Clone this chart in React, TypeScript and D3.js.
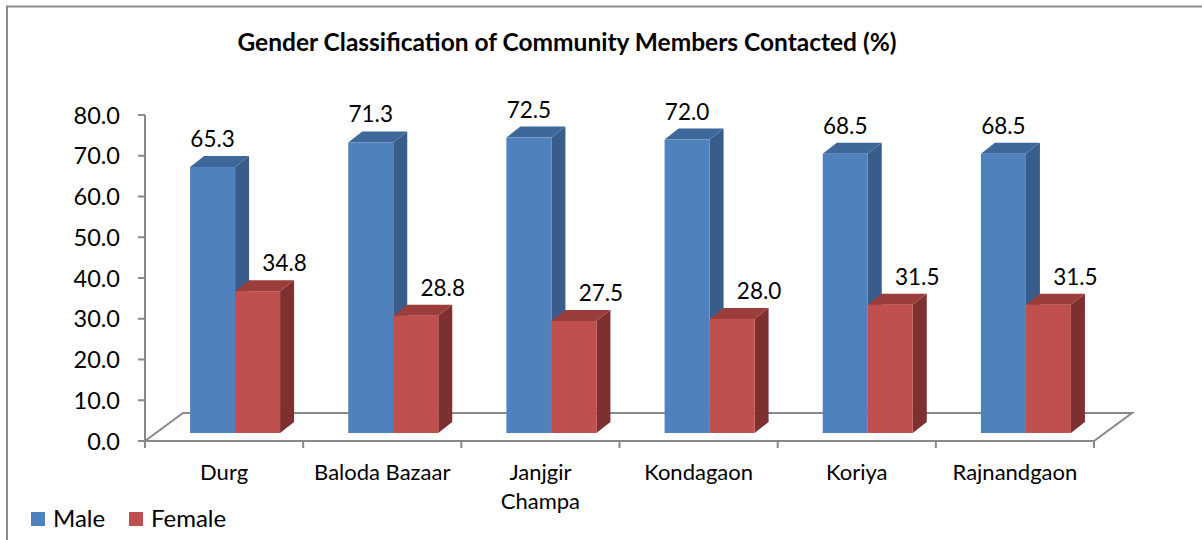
import React, { useEffect, useRef } from "react";
import * as d3 from "d3";

const districts = ["Durg", "Baloda Bazaar", "Janjgir Champa", "Kondagaon", "Koriya", "Rajnandgaon"];
const maleValues = [65.3, 71.3, 72.5, 72.0, 68.5, 68.5];
const femaleValues = [34.8, 28.8, 27.5, 28.0, 31.5, 31.5];
const yTicks = [0, 10, 20, 30, 40, 50, 60, 70, 80];
const seriesNames = ["Male", "Female"];

const FONT = "Lato, 'Open Sans', sans-serif";

const App = () => {
  const ref = useRef<SVGSVGElement>(null);
  const width = 1202;
  const height = 540;

  useEffect(() => {
    const svg = d3.select(ref.current);
    svg.selectAll("*").remove();

    const left = 145;
    const right = 1094;
    const floorY = 441;
    const floorDx = 38;
    const floorDy = -28;
    // bars stand part way into the floor
    const offX = 11;
    const offY = -8;
    const depthX = 14;
    const depthY = -11;
    const axisColor = "#898989";

    const y = d3.scaleLinear().domain([0, 80]).range([floorY, 115]);
    const x = d3.scaleBand().domain(districts).range([left, right]).padding(0);
    const sx = d3.scaleBand().domain(seriesNames).range([0, 90]).padding(0);

    const colors: Record<string, { front: string; side: string; top: string }> = {
      Male: { front: "#4F81BD", side: "#385D8A", top: "#3D6899" },
      Female: { front: "#C0504D", side: "#7D302F", top: "#9A3D3B" },
    };

    // chart frame
    svg.append("path")
      .attr("d", "M7,540 L7,6.5 L1202,6.5")
      .attr("fill", "none")
      .attr("stroke", "#8c8c8c")
      .attr("stroke-width", 2);

    // title
    svg.append("text")
      .attr("x", 567)
      .attr("y", 51)
      .attr("text-anchor", "middle")
      .attr("font-family", FONT)
      .attr("font-weight", "bold")
      .attr("font-size", 24.5)
      .text("Gender Classification of Community Members Contacted (%)");

    // floor
    svg.append("path")
      .attr("d", `M${left},${floorY} L${left + floorDx},${floorY + floorDy} L${right + floorDx},${floorY + floorDy} L${right},${floorY} L${left},${floorY}`)
      .attr("fill", "none")
      .attr("stroke", axisColor)
      .attr("stroke-width", 2);

    // y axis
    svg.append("line")
      .attr("x1", left).attr("x2", left)
      .attr("y1", y(80)).attr("y2", floorY)
      .attr("stroke", axisColor).attr("stroke-width", 2);

    const tickG = svg.append("g");
    yTicks.forEach((t) => {
      tickG.append("line")
        .attr("x1", left - 7).attr("x2", left)
        .attr("y1", y(t)).attr("y2", y(t))
        .attr("stroke", axisColor).attr("stroke-width", 2);
      tickG.append("text")
        .attr("x", 120)
        .attr("y", y(t) + 8.5)
        .attr("text-anchor", "end")
        .attr("font-family", FONT)
        .attr("font-size", 23.5)
        .text(t.toFixed(1));
    });

    // category ticks
    const catTicks = districts.map((d) => x(d) as number).concat([right]);
    catTicks.forEach((cx) => {
      svg.append("line")
        .attr("x1", cx).attr("x2", cx)
        .attr("y1", floorY).attr("y2", floorY + 7)
        .attr("stroke", axisColor).attr("stroke-width", 2);
    });

    // bars
    const barW = sx.bandwidth();
    const labels: { x: number; y: number; text: string }[] = [];
    districts.forEach((d, i) => {
      const pairStart = (x(d) as number) + (x.bandwidth() - 90) / 2 + offX;
      [maleValues[i], femaleValues[i]].forEach((v, k) => {
        const s = seriesNames[k];
        const x0 = pairStart + (sx(s) as number);
        const x1 = x0 + barW;
        const yb = y(0) + offY;
        const yt = y(v) + offY;
        const c = colors[s];
        svg.append("path")
          .attr("d", `M${x1},${yt} L${x1 + depthX},${yt + depthY} L${x1 + depthX},${yb + depthY} L${x1},${yb} Z`)
          .attr("fill", c.side);
        svg.append("path")
          .attr("d", `M${x0},${yt} L${x0 + depthX},${yt + depthY} L${x1 + depthX},${yt + depthY} L${x1},${yt} Z`)
          .attr("fill", c.top);
        svg.append("rect")
          .attr("x", x0).attr("y", yt)
          .attr("width", barW).attr("height", yb - yt)
          .attr("fill", c.front);
        labels.push({
          x: x0 + barW / 2 + (k === 1 ? 27 : 0),
          y: yt - 20,
          text: v.toFixed(1),
        });
      });
    });

    labels.forEach((l) => {
      svg.append("text")
        .attr("x", l.x)
        .attr("y", l.y)
        .attr("text-anchor", "middle")
        .attr("font-family", FONT)
        .attr("font-size", 22.5)
        .text(l.text);
    });

    // category labels
    districts.forEach((d) => {
      const cx = (x(d) as number) + x.bandwidth() / 2;
      const words = d === "Janjgir Champa" ? ["Janjgir", "Champa"] : [d];
      const t = svg.append("text")
        .attr("text-anchor", "middle")
        .attr("font-family", FONT)
        .attr("font-size", 22);
      words.forEach((w, j) => {
        t.append("tspan").attr("x", cx).attr("y", 480 + j * 29).text(w);
      });
    });

    // legend
    const legend = svg.append("g");
    const legendX = [31, 129];
    seriesNames.forEach((s, k) => {
      legend.append("rect")
        .attr("x", legendX[k]).attr("y", 512)
        .attr("width", 14).attr("height", 14)
        .attr("fill", colors[s].front);
      legend.append("text")
        .attr("x", legendX[k] + 22)
        .attr("y", 527)
        .attr("font-family", FONT)
        .attr("font-size", 24)
        .text(s);
    });
  }, []);

  return (
    <svg
      ref={ref}
      width={width}
      height={height}
      style={{ position: "absolute", left: 0, top: 0, background: "#fff" }}
    ></svg>
  );
};

export default App;
